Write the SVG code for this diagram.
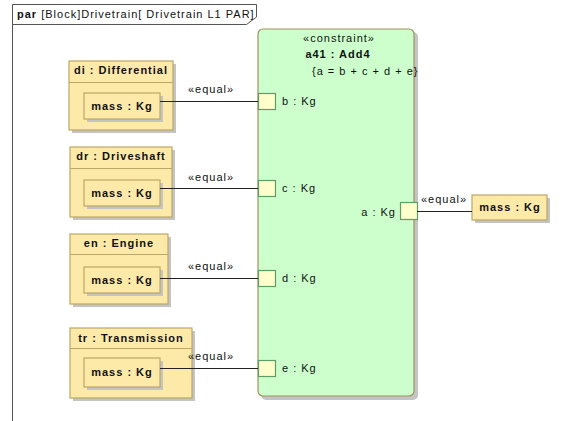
<svg xmlns="http://www.w3.org/2000/svg" width="566" height="421" viewBox="0 0 566 421">
  <style>
    text { font-family: "Liberation Sans", Arial, sans-serif; font-size: 11px; fill: #111; letter-spacing: 1px; }
    .b { font-weight: bold; }
    .mid { text-anchor: middle; }
    .end { text-anchor: end; }
    .frame { fill: none; stroke: #555; stroke-width: 1; }
    .shadow { fill: #c4c4c4; }
    .part { fill: #fdeaa9; stroke: #bba766; stroke-width: 1.2; }
    .prop { fill: #fdeaa9; stroke: #bba766; stroke-width: 1.2; }
    .cblock { fill: #ccffcc; stroke: #a0925f; stroke-width: 1.2; }
    .port { fill: #ffffcc; stroke: #5f9c68; stroke-width: 1.2; }
    .conn { fill: none; stroke: #222; stroke-width: 1; }
  </style>
  <rect width="566" height="421" fill="#ffffff"/>

  <!-- diagram frame and name tab -->
  <g id="frame">
    <path class="frame" d="M12.5,421 V4.5 H256.5 V17 L246.5,24.5 H12.5"/>
    <text x="17" y="18"><tspan class="b">par</tspan> [Block]Drivetrain[ Drivetrain L1 PAR]</text>
  </g>

  <!-- constraint property a41 : Add4 -->
  <g id="a41">
    <rect class="shadow" x="261" y="32" width="157" height="368" rx="5"/>
    <rect class="cblock" x="258" y="29" width="156" height="367" rx="5"/>
    <text class="mid" x="339" y="42">«constraint»</text>
    <text class="mid b" x="338" y="58">a41 : Add4</text>
    <text x="312" y="75">{a = b + c + d + e}</text>
  </g>

  <g id="port-b">
    <rect class="port" x="258.5" y="93.5" width="17" height="16"/>
    <text x="282" y="105">b : Kg</text>
  </g>
  <g id="port-c">
    <rect class="port" x="258.5" y="180.5" width="17" height="16"/>
    <text x="282" y="192">c : Kg</text>
  </g>
  <g id="port-d">
    <rect class="port" x="258.5" y="270.5" width="17" height="16"/>
    <text x="282" y="282">d : Kg</text>
  </g>
  <g id="port-e">
    <rect class="port" x="258.5" y="360.5" width="17" height="16"/>
    <text x="282" y="372">e : Kg</text>
  </g>
  <g id="port-a">
    <rect class="port" x="400.5" y="202.5" width="17" height="17"/>
    <text class="end" x="396" y="216">a : Kg</text>
  </g>

  <!-- part di : Differential -->
  <g id="di">
    <rect class="shadow" x="72" y="64" width="104" height="69"/>
    <rect class="part" x="69" y="61" width="104" height="69"/>
    <line x1="69" y1="82.5" x2="173" y2="82.5" stroke="#bba766" stroke-width="1.2"/>
    <text class="mid b" x="121" y="74">di : Differential</text>
    <g id="di-mass">
      <rect class="shadow" x="87" y="96" width="76" height="26"/>
      <rect class="prop" x="84" y="93" width="76" height="26"/>
      <text class="mid b" x="122" y="110">mass : Kg</text>
    </g>
  </g>

  <!-- part dr : Driveshaft -->
  <g id="dr">
    <rect class="shadow" x="73" y="150" width="102" height="70"/>
    <rect class="part" x="70" y="147" width="102" height="70"/>
    <line x1="70" y1="168.5" x2="172" y2="168.5" stroke="#bba766" stroke-width="1.2"/>
    <text class="mid b" x="121" y="160">dr : Driveshaft</text>
    <g id="dr-mass">
      <rect class="shadow" x="87" y="183" width="76" height="26"/>
      <rect class="prop" x="84" y="180" width="76" height="26"/>
      <text class="mid b" x="122" y="197">mass : Kg</text>
    </g>
  </g>

  <!-- part en : Engine -->
  <g id="en">
    <rect class="shadow" x="73" y="237" width="98" height="70"/>
    <rect class="part" x="70" y="234" width="98" height="70"/>
    <line x1="70" y1="254.5" x2="168" y2="254.5" stroke="#bba766" stroke-width="1.2"/>
    <text class="mid b" x="119" y="247">en : Engine</text>
    <g id="en-mass">
      <rect class="shadow" x="87" y="270" width="76" height="26"/>
      <rect class="prop" x="84" y="267" width="76" height="26"/>
      <text class="mid b" x="122" y="284">mass : Kg</text>
    </g>
  </g>

  <!-- part tr : Transmission -->
  <g id="tr">
    <rect class="shadow" x="73" y="331" width="122" height="70"/>
    <rect class="part" x="70" y="328" width="122" height="70"/>
    <line x1="70" y1="348.5" x2="192" y2="348.5" stroke="#bba766" stroke-width="1.2"/>
    <text class="mid b" x="131" y="342">tr : Transmission</text>
    <g id="tr-mass">
      <rect class="shadow" x="87" y="361" width="76" height="29"/>
      <rect class="prop" x="84" y="358" width="76" height="29"/>
      <text class="mid b" x="122" y="376">mass : Kg</text>
    </g>
  </g>

  <!-- standalone value property -->
  <g id="mass">
    <rect class="shadow" x="475" y="198" width="75" height="25"/>
    <rect class="prop" x="472" y="195" width="75" height="25"/>
    <text class="mid b" x="510" y="211">mass : Kg</text>
  </g>

  <!-- binding connectors -->
  <g id="connectors">
    <line class="conn" x1="160" y1="101.5" x2="258" y2="101.5"/>
    <text x="188" y="93">«equal»</text>
    <line class="conn" x1="160" y1="188.5" x2="258" y2="188.5"/>
    <text x="188" y="181">«equal»</text>
    <line class="conn" x1="160" y1="278.5" x2="258" y2="278.5"/>
    <text x="188" y="270">«equal»</text>
    <line class="conn" x1="160" y1="368.5" x2="258" y2="368.5"/>
    <text x="188" y="360">«equal»</text>
    <line class="conn" x1="417" y1="211.5" x2="472" y2="211.5"/>
    <text x="421" y="203">«equal»</text>
  </g>
</svg>
